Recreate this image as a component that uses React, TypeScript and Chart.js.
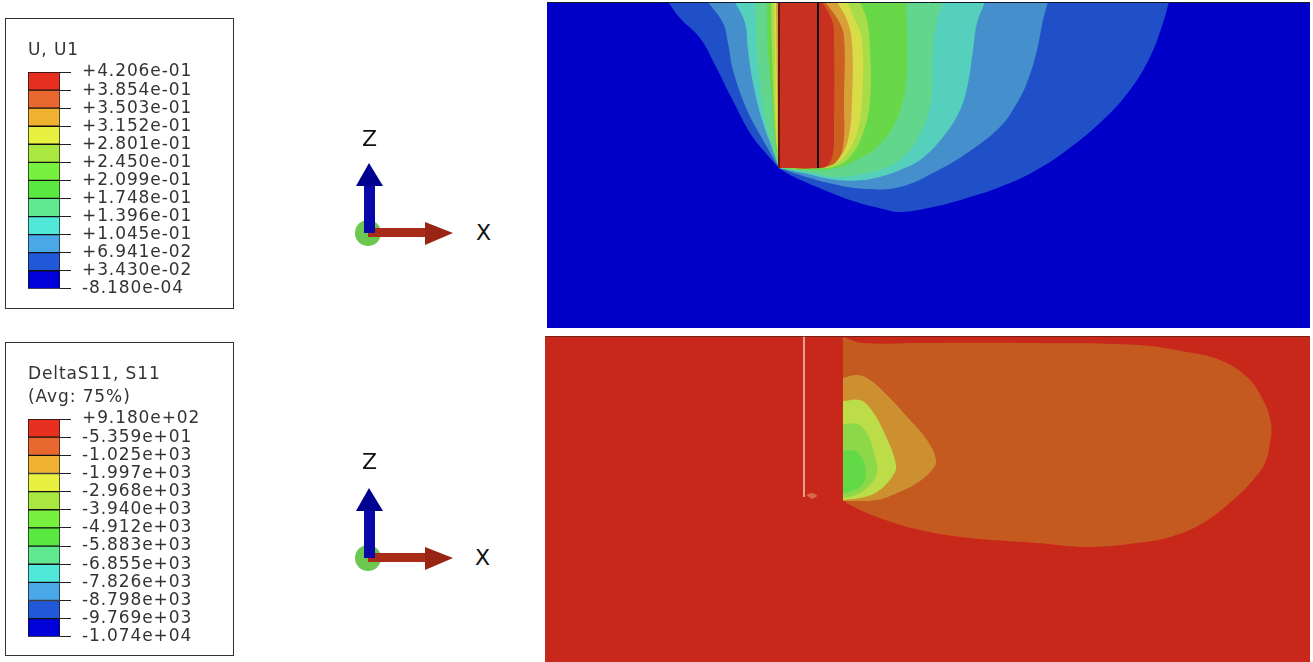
import React, { useEffect, useRef } from "react";
import { Chart, registerables } from "chart.js";

Chart.register(...registerables);

// ---------- Contour outlines (model plane, x / z) ----------
const topRoyal = [[668,2],[680,18],[700,38],[715,65],[730,95],[750,133],[763,150],[779,168],[779,168],[790,175],[817,187],[850,200],[883,209],[900,212],[933,207],[967,198],[1000,187],[1033,172],[1067,150],[1103,120],[1130,90],[1150,57],[1163,23],[1169,2]];
const topSky = [[708,2],[723,23],[728,43],[733,70],[747,110],[763,140],[779,168],[779,168],[800,175],[833,184],[867,189],[900,187],[933,173],[967,153],[1000,127],[1017,103],[1028,80],[1037,50],[1043,20],[1048,2]];
const topTeal = [[735,2],[745,23],[748,50],[753,83],[763,123],[777,160],[779,168],[779,168],[803,173],[837,180],[863,180],[883,176],[900,170],[920,160],[943,137],[960,110],[968,83],[973,50],[977,23],[985,2]];
const topSeafoam = [[755,2],[757,50],[762,100],[770,140],[779,168],[779,168],[807,172],[837,177],[867,173],[885,168],[900,160],[917,140],[928,115],[932,90],[933,50],[937,20],[943,2]];
const topGreen = [[767,2],[768,50],[772,100],[775,140],[779,168],[779,168],[807,170],[837,168],[857,160],[877,147],[893,127],[903,100],[907,67],[906,2]];
const topLime = [[771,2],[772,50],[774,110],[777,150],[779,168],[779,168],[810,168],[833,167],[850,157],[863,133],[870,100],[870,50],[867,20],[860,2]];
const topYellow = [[774,2],[775,60],[776,130],[779,168],[779,168],[817,168],[833,165],[847,153],[857,133],[862,100],[862,40],[855,20],[847,2]];
const topOrange = [[776,2],[777,80],[778,168],[778,168],[817,168],[827,167],[838,160],[848,140],[852,100],[852,43],[847,20],[837,2]];
const topDarkOrange = [[778,2],[778,168],[778,168],[817,168],[823,167],[835,163],[843,147],[844,100],[844,37],[838,20],[825,2]];
const topRed = [[778,2],[778,168],[778,168],[820,168],[828,165],[833,153],[834,133],[834,40],[832,20],[822,2]];
const topPileLeft = [[779,2],[779,168]];
const topPileRight = [[818,2],[818,168]];
const topEdge = [[547,2.5],[1310,2.5]];

const botBlob = [[843,337],[863,343],[920,343],[1020,343],[1137,345],[1187,352],[1220,360],[1247,377],[1263,400],[1271,423],[1270,443],[1265,463],[1253,480],[1233,500],[1203,523],[1170,537],[1137,543],[1087,547],[1037,543],[970,538],[920,530],[877,517],[850,505],[843,500]];
const botTan = [[843,378],[858,375],[870,380],[887,395],[910,420],[927,440],[936,460],[932,470],[917,483],[897,493],[877,500],[843,501]];
const botLime = [[843,401],[860,400],[870,408],[883,430],[896,465],[892,477],[877,492],[860,498],[843,500]];
const botGreen = [[843,424],[857,424],[867,433],[875,457],[877,473],[867,488],[853,496],[843,498]];
const botGreen2 = [[843,451],[855,451],[862,458],[866,473],[862,485],[850,492],[843,493]];
const botColumn = [[545,336],[843,336],[843,662],[545,662]];
const botPileLine = [[804,336],[804,497]];
const botPileMark = [[806,495],[812,493],[817,496],[812,499]];
const botEdge = [[545,336],[1310,336]];

const triadDisc = [[368,233]];
const triadXShaft = [[368,228],[425,228],[425,237],[368,237]];
const triadXHead = [[425,222],[453,233],[425,245]];
const triadZShaft = [[364,186],[375,186],[375,233],[364,233]];
const triadZHead = [[369,163],[383,186],[356,186]];

// ---------- Legend levels, lowest first ----------
const levelsU = [-8.18e-4, 3.43e-2, 6.941e-2, 1.045e-1, 1.396e-1, 1.748e-1, 2.099e-1, 2.45e-1, 2.801e-1, 3.152e-1, 3.503e-1, 3.854e-1, 4.206e-1];
const levelsS = [-1.074e4, -9.769e3, -8.798e3, -7.826e3, -6.855e3, -5.883e3, -4.912e3, -3.94e3, -2.968e3, -1.997e3, -1.025e3, -5.359e1, 9.18e2];
const legendColors = ["#0000D8","#2058D8","#48A8E8","#50E8D8","#60E890","#58E840","#78F040","#A8E840","#E8F040","#F0B030","#E86830","#E83020"];
const titleU = ["U, U1"];
const titleS = ["DeltaS11, S11", "(Avg: 75%)"];

const FONT = "'DejaVu Sans'";

function sciLabel(v) {
  const [m, e] = Math.abs(v).toExponential(3).split("e");
  const n = parseInt(e, 10);
  return (v < 0 ? "-" : "+") + m + "e" + (n < 0 ? "-" : "+") + String(Math.abs(n)).padStart(2, "0");
}

function shape(points, color, tension = 0.4) {
  return { data: points.map(([x, y]) => ({ x, y })), showLine: true, fill: "shape", backgroundColor: color, borderWidth: 0, borderColor: color, pointRadius: 0, tension };
}
function stroke(points, color, width) {
  return { data: points.map(([x, y]) => ({ x, y })), showLine: true, fill: false, borderColor: color, borderWidth: width, pointRadius: 0 };
}

function Plane({ left, top, width, height, xRange, yRange, items }) {
  const ref = useRef(null);
  useEffect(() => {
    const n = items.length;
    const chart = new Chart(ref.current, {
      type: "scatter",
      data: { datasets: items.map((d, i) => ({ ...d, order: n - i })) },
      options: {
        animation: false, responsive: false, events: [],
        layout: { padding: 0, autoPadding: false },
        plugins: { legend: { display: false }, tooltip: { enabled: false } },
        scales: {
          x: { type: "linear", display: false, min: xRange[0], max: xRange[1] },
          y: { type: "linear", display: false, min: yRange[0], max: yRange[1], reverse: true },
        },
      },
    });
    return () => chart.destroy();
  }, []);
  return <canvas ref={ref} width={width} height={height} style={{ position: "absolute", left, top }} />;
}

function Legend({ left, top, height, levels, title, titleTop, titleGap }) {
  const ref = useRef(null);
  useEffect(() => {
    const chart = new Chart(ref.current, {
      type: "bar",
      data: {
        labels: ["level"],
        datasets: legendColors.map((c, i) => ({
          data: [[levels[i], levels[i + 1]]],
          backgroundColor: c, borderColor: "#111", borderWidth: 1, borderSkipped: false,
          barPercentage: 1, categoryPercentage: 1, grouped: false,
        })),
      },
      options: {
        animation: false, responsive: false, events: [],
        layout: { padding: { left: 0, right: 0, top: 0, bottom: 0 } },
        plugins: {
          legend: { display: false }, tooltip: { enabled: false },
          title: {
            display: true, text: title, align: "start", color: "#333",
            font: { family: FONT, size: 17, lineHeight: 23 / 17, weight: "normal" },
            padding: { top: titleTop, bottom: titleGap },
          },
        },
        scales: {
          x: { display: false },
          y: {
            position: "right", min: levels[0], max: levels[levels.length - 1],
            afterBuildTicks: (s) => { s.ticks = levels.map((value) => ({ value })); },
            afterFit: (s) => { s.width = 150; },
            ticks: { autoSkip: false, padding: 11, color: "#333", font: { family: FONT, size: 17 }, callback: (v) => sciLabel(v), maxRotation: 0 },
            grid: { drawOnChartArea: false, tickLength: 11, color: "#222" },
            border: { display: false },
          },
        },
      },
      plugins: [{ id: "spacing", beforeDraw: (c) => { c.ctx.letterSpacing = "0.9px"; } }],
    });
    return () => chart.destroy();
  }, []);
  return <canvas ref={ref} width={182} height={height} style={{ position: "absolute", left, top }} />;
}

const topItems = [
  shape(topRoyal, "#2050C8"), shape(topSky, "#4590CC"), shape(topTeal, "#55D0BC"), shape(topSeafoam, "#62D68C"),
  shape(topGreen, "#68D848"), shape(topLime, "#A8DC48"), shape(topYellow, "#D8DC48"), shape(topOrange, "#D8A038"),
  shape(topDarkOrange, "#CC6020"), shape(topRed, "#C83020"),
  stroke(topPileLeft, "#40140C", 1.5), stroke(topPileRight, "#100808", 2), stroke(topEdge, "#101828", 1),
];
const botItems = [
  shape(botBlob, "#C55A20"), shape(botTan, "#CC9030"), shape(botLime, "#BCDC48"), shape(botGreen, "#8CD848"), shape(botGreen2, "#62DA48"),
  shape(botColumn, "#C8281A", 0), shape(botPileMark, "#D86848"),
  stroke(botPileLine, "#F0C8B8", 1.5), stroke(botEdge, "#5A2018", 1.5),
];
const triadItems = [
  { data: triadDisc.map(([x, y]) => ({ x, y })), pointRadius: 13, backgroundColor: "#6CC850", borderWidth: 0 },
  shape(triadXShaft, "#A82C18", 0), shape(triadXHead, "#982414", 0),
  shape(triadZShaft, "#0808A8", 0), shape(triadZHead, "#000090", 0),
];

const boxStyle = { position: "absolute", left: 5, width: 229, boxSizing: "border-box", border: "1.5px solid #333", background: "#fff" };
const axisText = { position: "absolute", font: "22px " + FONT, color: "#111", lineHeight: "24px" };

export default function App() {
  return (
    <div style={{ position: "absolute", left: 0, top: 0, width: 1313, height: 662, overflow: "hidden", background: "#fff", filter: "blur(0.4px)" }}>
      <div style={{ ...boxStyle, top: 18, height: 291 }} />
      <Legend left={28} top={38} height={272} levels={levelsU} title={titleU} titleTop={1} titleGap={10} />
      <div style={{ ...boxStyle, top: 342, height: 314 }} />
      <Legend left={28} top={361} height={297} levels={levelsS} title={titleS} titleTop={2} titleGap={10} />

      <Plane left={340} top={150} width={120} height={100} xRange={[340, 460]} yRange={[150, 250]} items={triadItems} />
      <Plane left={340} top={475} width={120} height={100} xRange={[340, 460]} yRange={[150, 250]} items={triadItems} />
      <div style={{ ...axisText, left: 362, top: 127 }}>Z</div>
      <div style={{ ...axisText, left: 476, top: 221 }}>X</div>
      <div style={{ ...axisText, left: 362, top: 450 }}>Z</div>
      <div style={{ ...axisText, left: 475, top: 546 }}>X</div>

      <div style={{ position: "absolute", left: 547, top: 2, width: 763, height: 326, background: "#0000C8" }} />
      <Plane left={547} top={2} width={763} height={326} xRange={[547, 1310]} yRange={[2, 328]} items={topItems} />
      <div style={{ position: "absolute", left: 545, top: 336, width: 765, height: 326, background: "#C8281A" }} />
      <Plane left={545} top={336} width={765} height={326} xRange={[545, 1310]} yRange={[336, 662]} items={botItems} />
    </div>
  );
}
